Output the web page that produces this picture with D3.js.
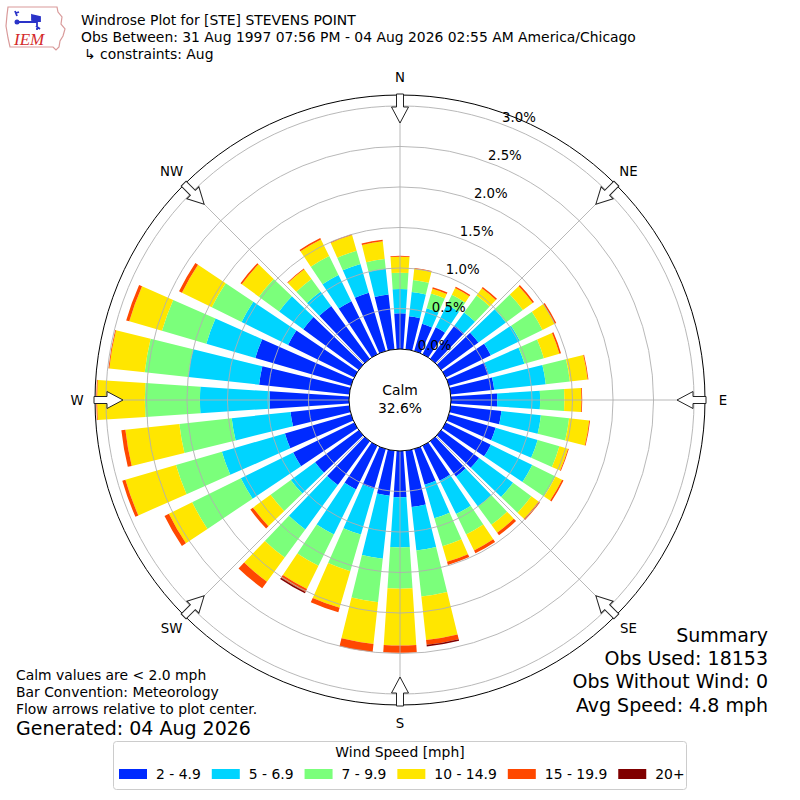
<!DOCTYPE html>
<html>
<head>
<meta charset="utf-8">
<script src="https://cdn.jsdelivr.net/npm/d3@7"></script>
<style>
  body { margin: 0; background: #fff; }
  svg { display: block; }
  text { font-family: "DejaVu Sans", sans-serif; fill: #000; }
</style>
</head>
<body>
<svg id="chart" width="800" height="800"></svg>
<script>
// ---------------- DATA ----------------
const directions = [0,10,20,30,40,50,60,70,80,90,100,110,120,130,140,150,160,170,
                    180,190,200,210,220,230,240,250,260,270,280,290,300,310,320,330,340,350];
const speedBins = ["2 - 4.9", "5 - 6.9", "7 - 9.9", "10 - 14.9", "15 - 19.9", "20+"];
const binColors = ["#002AFF", "#00D4FF", "#7BFF7B", "#FFE600", "#FF4800", "#800000"];

// percent of observations per direction, per speed bin
const bin2to5 = [0.44,0.41,0.35,0.37,0.51,0.57,0.62,0.51,0.54,0.57,0.63,0.60,0.62,0.58,0.54,0.48,0.46,0.70,
                 0.57,0.56,0.51,0.60,0.67,0.67,0.84,0.85,0.73,0.98,1.12,1.23,0.91,0.85,0.81,0.73,0.75,0.68];
const bin5to7 = [0.30,0.30,0.20,0.31,0.20,0.42,0.40,0.46,0.64,0.53,0.49,0.54,0.57,0.52,0.46,0.46,0.43,0.54,
                 0.62,0.78,0.59,0.62,0.68,0.37,0.72,0.81,0.73,0.86,0.88,0.63,0.64,0.37,0.22,0.36,0.37,0.32];
const bin7to10 = [0.20,0.15,0.19,0.14,0.26,0.26,0.31,0.25,0.30,0.30,0.35,0.28,0.32,0.28,0.28,0.28,0.36,0.57,
                  0.51,0.54,0.47,0.43,0.43,0.31,0.67,0.59,0.65,0.68,0.54,0.57,0.41,0.31,0.19,0.26,0.17,0.12];
const bin10to15 = [0.20,0.14,0.06,0.09,0.11,0.15,0.17,0.20,0.22,0.21,0.25,0.11,0.09,0.11,0.12,0.22,0.20,0.54,
                   0.70,0.52,0.47,0.32,0.37,0.27,0.32,0.65,0.67,0.59,0.44,0.42,0.41,0.26,0.15,0.23,0.20,0.22];
const bin15to20 = [0.01,0.01,0.02,0.02,0.02,0.02,0.02,0.02,0.01,0.01,0.01,0.01,0.02,0.02,0.04,0.04,0.04,0.06,
                   0.09,0.10,0.06,0.04,0.10,0.04,0.06,0.04,0.05,0.01,0.01,0.04,0.04,0.02,0.01,0.02,0.01,0.02];
const bin20plus = [0,0,0,0,0,0,0,0,0,0,0,0,0,0,0,0,0,0.02,
                   0,0,0,0.02,0,0,0,0,0,0,0,0,0,0,0,0,0,0];

const radialTicks = [0.0, 0.5, 1.0, 1.5, 2.0, 2.5, 3.0];
const rMax = 3.135;
const compassLabels = ["N","NE","E","SE","S","SW","W","NW"];
const compassAngles = [0,45,90,135,180,225,270,315];
const calmPct = "32.6%";

const titleLines = ["Windrose Plot for [STE] STEVENS POINT",
                    "Obs Between: 31 Aug 1997 07:56 PM - 04 Aug 2026 02:55 AM America/Chicago",
                    "\u21B3 constraints: Aug"];
const noteLines = ["Calm values are < 2.0 mph", "Bar Convention: Meteorology", "Flow arrows relative to plot center."];
const generatedText = "Generated: 04 Aug 2026";
const summaryLines = ["Summary", "Obs Used: 18153", "Obs Without Wind: 0", "Avg Speed: 4.8 mph"];
const legendTitle = "Wind Speed [mph]";

// ---------------- DRAW ----------------
const svg = d3.select("#chart");
const cx = 400, cy = 400;
const rad = d => d * Math.PI / 180;
const r = d3.scaleLinear().domain([0, rMax]).range([51, 305]);

const keys = ["b1","b2","b3","b4","b5","b6"];
const binArrays = [bin2to5, bin5to7, bin7to10, bin10to15, bin15to20, bin20plus];
const table = directions.map((dir, i) => {
  const row = { dir };
  keys.forEach((k, j) => row[k] = binArrays[j][i]);
  return row;
});
const series = d3.stack().keys(keys)(table);

const plot = svg.append("g").attr("transform", `translate(${cx},${cy})`);
const halfW = rad(3.8);
const arc = d3.arc();

plot.selectAll("g.layer").data(series).join("g")
  .attr("class", "layer")
  .attr("fill", (d, i) => binColors[i])
  .selectAll("path").data(d => d.filter(p => p[1] - p[0] > 0)).join("path")
  .attr("d", p => arc({
    innerRadius: r(p[0]), outerRadius: r(p[1]),
    startAngle: rad(p.data.dir) - halfW, endAngle: rad(p.data.dir) + halfW
  }));

// grid rings
plot.selectAll("circle.ring").data(radialTicks.filter(t => t > 0)).join("circle")
  .attr("class", "ring").attr("r", t => r(t))
  .attr("fill", "none").attr("stroke", "#b0b0b0").attr("stroke-width", 0.9);

// radial lines
plot.selectAll("line.spoke").data(compassAngles).join("line")
  .attr("class", "spoke")
  .attr("x1", a => r(0) * Math.sin(rad(a))).attr("y1", a => -r(0) * Math.cos(rad(a)))
  .attr("x2", a => r(rMax) * Math.sin(rad(a))).attr("y2", a => -r(rMax) * Math.cos(rad(a)))
  .attr("stroke", "#b0b0b0").attr("stroke-width", 0.9);

// outer boundary
plot.append("circle").attr("r", r(rMax)).attr("fill", "none").attr("stroke", "#000").attr("stroke-width", 1);

// calm circle
plot.append("circle").attr("r", r(0)).attr("fill", "#fff").attr("stroke", "#000").attr("stroke-width", 1);
plot.append("text").attr("x", 0).attr("y", -5).attr("text-anchor", "middle")
  .style("font-size", "13.9px").text("Calm");
plot.append("text").attr("x", 0).attr("y", 13).attr("text-anchor", "middle")
  .style("font-size", "13.9px").text(calmPct);

// flow arrows (pointing inward)
const R0 = r(rMax);
const arrowPts = [[-3.5, -R0 - 1], [3.5, -R0 - 1], [3.5, -R0 + 12], [8.5, -R0 + 12], [0, -R0 + 28],
                  [-8.5, -R0 + 12], [-3.5, -R0 + 12]];
plot.selectAll("path.arrow").data(compassAngles).join("path")
  .attr("class", "arrow")
  .attr("d", "M" + arrowPts.map(p => p.join(",")).join("L") + "Z")
  .attr("transform", a => `rotate(${a})`)
  .attr("fill", "#fff").attr("stroke", "#222").attr("stroke-width", 1);

// compass labels
plot.selectAll("text.compass").data(compassLabels).join("text")
  .attr("class", "compass")
  .attr("x", (d, i) => 323 * Math.sin(rad(compassAngles[i])))
  .attr("y", (d, i) => -323 * Math.cos(rad(compassAngles[i])))
  .attr("text-anchor", "middle").attr("dominant-baseline", "central")
  .style("font-size", "13.3px").text(d => d);

// radial tick labels
const labAng = rad(20.3);
plot.selectAll("text.rtick").data(radialTicks).join("text")
  .attr("class", "rtick")
  .attr("x", t => r(t) * Math.sin(labAng))
  .attr("y", t => -r(t) * Math.cos(labAng) - 2)
  .style("font-size", "13.3px")
  .text(t => d3.format(".1f")(t) + "%");

// titles
svg.selectAll("text.title").data(titleLines).join("text")
  .attr("class", "title")
  .attr("x", (d, i) => i === 2 ? 84 : 81)
  .attr("y", (d, i) => 25 + i * 17)
  .style("font-size", "13.9px").text(d => d);

// notes bottom-left
svg.selectAll("text.note").data(noteLines).join("text")
  .attr("class", "note").attr("x", 16).attr("y", (d, i) => 680 + i * 17)
  .style("font-size", "13.9px").text(d => d);
svg.append("text").attr("x", 16).attr("y", 735).style("font-size", "19px").text(generatedText);

// summary bottom-right
svg.selectAll("text.summary").data(summaryLines).join("text")
  .attr("class", "summary").attr("x", 768).attr("y", (d, i) => 642 + i * 23.2)
  .attr("text-anchor", "end").style("font-size", "19px").text(d => d);

// legend
const lg = svg.append("g");
lg.append("rect").attr("x", 113.5).attr("y", 741.5).attr("width", 573).attr("height", 48).attr("rx", 3)
  .attr("fill", "#fff").attr("stroke", "#cccccc").attr("stroke-width", 1);
lg.append("text").attr("x", 400).attr("y", 757).attr("text-anchor", "middle")
  .style("font-size", "13.9px").text(legendTitle);
let lx = 119;
speedBins.forEach((lab, i) => {
  lg.append("rect").attr("x", lx).attr("y", 769).attr("width", 28).attr("height", 10).attr("fill", binColors[i]);
  const t = lg.append("text").attr("x", lx + 37).attr("y", 779).style("font-size", "13.9px").text(lab);
  lx = lx + 37 + t.node().getComputedTextLength() + 11;
});

// IEM logo
const logo = svg.append("g");
logo.append("path")
  .attr("d", "M8,7 L57,7 L58,12 L62,17 L61,24 L65,29 L63,36 L60,41 L59,47 L56,50 L53,47 L10,47 L8,38 L6,26 L7,15 Z")
  .attr("fill", "none").attr("stroke", "#d99a9a").attr("stroke-width", 1.2);
logo.append("path").attr("d", "M15,11 L17,16 M16,13 L19,12 M17,20 L17,24 M17,22 L37,22 M37,16 L37,30 M32,15 L40,17 L40,21 L32,20 Z M36,26 L40,29")
  .attr("fill", "#2a33c8").attr("stroke", "#2a33c8").attr("stroke-width", 1.8);
logo.append("circle").attr("cx", 17).attr("cy", 22).attr("r", 2.5).attr("fill", "#2a33c8");
logo.append("text").attr("x", 14).attr("y", 45)
  .style("font-family", "'Liberation Serif', serif").style("font-style", "italic")
  .style("font-size", "17px").style("fill", "#d42a2a").text("IEM");
</script>
</body>
</html>
